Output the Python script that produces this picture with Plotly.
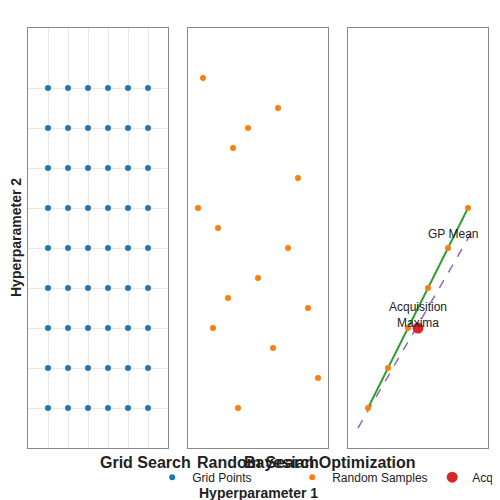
import plotly.graph_objects as go

grid_x = [20, 40, 60, 80, 100, 120]
grid_y = [360, 320, 280, 240, 200, 160, 120, 80, 40]
rand_x = [15, 90, 60, 45, 110, 10, 30, 100, 70, 40, 120, 25, 85, 130, 50]
rand_y = [370, 340, 320, 300, 270, 240, 220, 200, 170, 150, 140, 120, 100, 70, 40]
bo_x = [20, 40, 60, 80, 100, 120]
bo_y = [40, 80, 120, 160, 200, 240]
acq_x = [10, 125]
acq_y = [20, 218]
max_x = [70]
max_y = [120]

gx = [x for y in grid_y for x in grid_x]
gy = [y for y in grid_y for x in grid_x]

fig = go.Figure()
fig.add_trace(go.Scatter(x=gx, y=gy, mode="markers", marker=dict(color="#1f77b4", size=6),
                         name="Grid Points", xaxis="x", yaxis="y"))
fig.add_trace(go.Scatter(x=rand_x, y=rand_y, mode="markers", marker=dict(color="#ff7f0e", size=6),
                         name="Random Samples", xaxis="x2", yaxis="y2"))
fig.add_trace(go.Scatter(x=acq_x, y=acq_y, mode="lines", line=dict(color="#9467bd", dash="dash", width=1.5),
                         showlegend=False, xaxis="x3", yaxis="y3"))
fig.add_trace(go.Scatter(x=bo_x, y=bo_y, mode="lines+markers", line=dict(color="#2ca02c", width=2),
                         marker=dict(color="#ff7f0e", size=6), showlegend=False, xaxis="x3", yaxis="y3"))
fig.add_trace(go.Scatter(x=max_x, y=max_y, mode="markers", marker=dict(color="#d62728", size=11),
                         name="Acquisition Point", xaxis="x3", yaxis="y3"))

doms = [[0, 140/460], [160/460, 300/460], [320/460, 1]]
ax = dict(range=[0, 140], showticklabels=False, zeroline=False, showline=True, mirror=True,
          linecolor="#888", linewidth=1, ticks="")
ay = dict(range=[0, 420], showticklabels=False, zeroline=False, showline=True, mirror=True,
          linecolor="#888", linewidth=1, ticks="")
lay = {}
for i, d in enumerate(doms):
    s = "" if i == 0 else str(i + 1)
    xa = dict(ax, domain=d, anchor="y" + s)
    ya = dict(ay, domain=[0, 1], anchor="x" + s)
    if i == 0:
        xa.update(showgrid=True, gridcolor="#e8e8e8", tickvals=grid_x)
        ya.update(showgrid=True, gridcolor="#e8e8e8", tickvals=grid_y)
    else:
        xa["showgrid"] = False
        ya["showgrid"] = False
    lay["xaxis" + s] = xa
    lay["yaxis" + s] = ya

ty = -25 / 420
fig.update_layout(**lay)
fig.update_layout(
    width=500, height=500, margin=dict(l=20, r=20, t=20, b=60, autoexpand=False),
    plot_bgcolor="white", paper_bgcolor="white",
    font=dict(family="Liberation Sans, Arial", size=12, color="#222"),
    legend=dict(orientation="h", x=0.27, y=-0.035, xanchor="left", yanchor="top",
                font=dict(size=12), bgcolor="rgba(0,0,0,0)", itemwidth=30,
                entrywidth=95, entrywidthmode="pixels"),
    annotations=[
        dict(text="<b>Grid Search</b>", x=70/460, y=ty, xref="paper", yref="paper", showarrow=False, font=dict(size=16)),
        dict(text="<b>Random Search</b>", x=230/460, y=ty, xref="paper", yref="paper", showarrow=False, font=dict(size=16)),
        dict(text="<b>Bayesian Optimization</b>", x=390/460, y=ty, xref="paper", yref="paper", showarrow=False, font=dict(size=16)),
        dict(text="<b>Hyperparameter 1</b>", x=0.5, y=-45/420, xref="paper", yref="paper", showarrow=False,
             font=dict(size=14), yanchor="middle"),
        dict(text="<b>Hyperparameter 2</b>", x=-12/460, y=0.5, xref="paper", yref="paper", showarrow=False,
             font=dict(size=14), textangle=-90, xanchor="center"),
        dict(text="GP Mean", x=105, y=214, xref="x3", yref="y3", showarrow=False, font=dict(size=12)),
        dict(text="Acquisition<br>Maxima", x=70, y=116, xref="x3", yref="y3", showarrow=False,
             font=dict(size=12), yanchor="bottom"),
    ],
)
fig.write_html("out.html")
